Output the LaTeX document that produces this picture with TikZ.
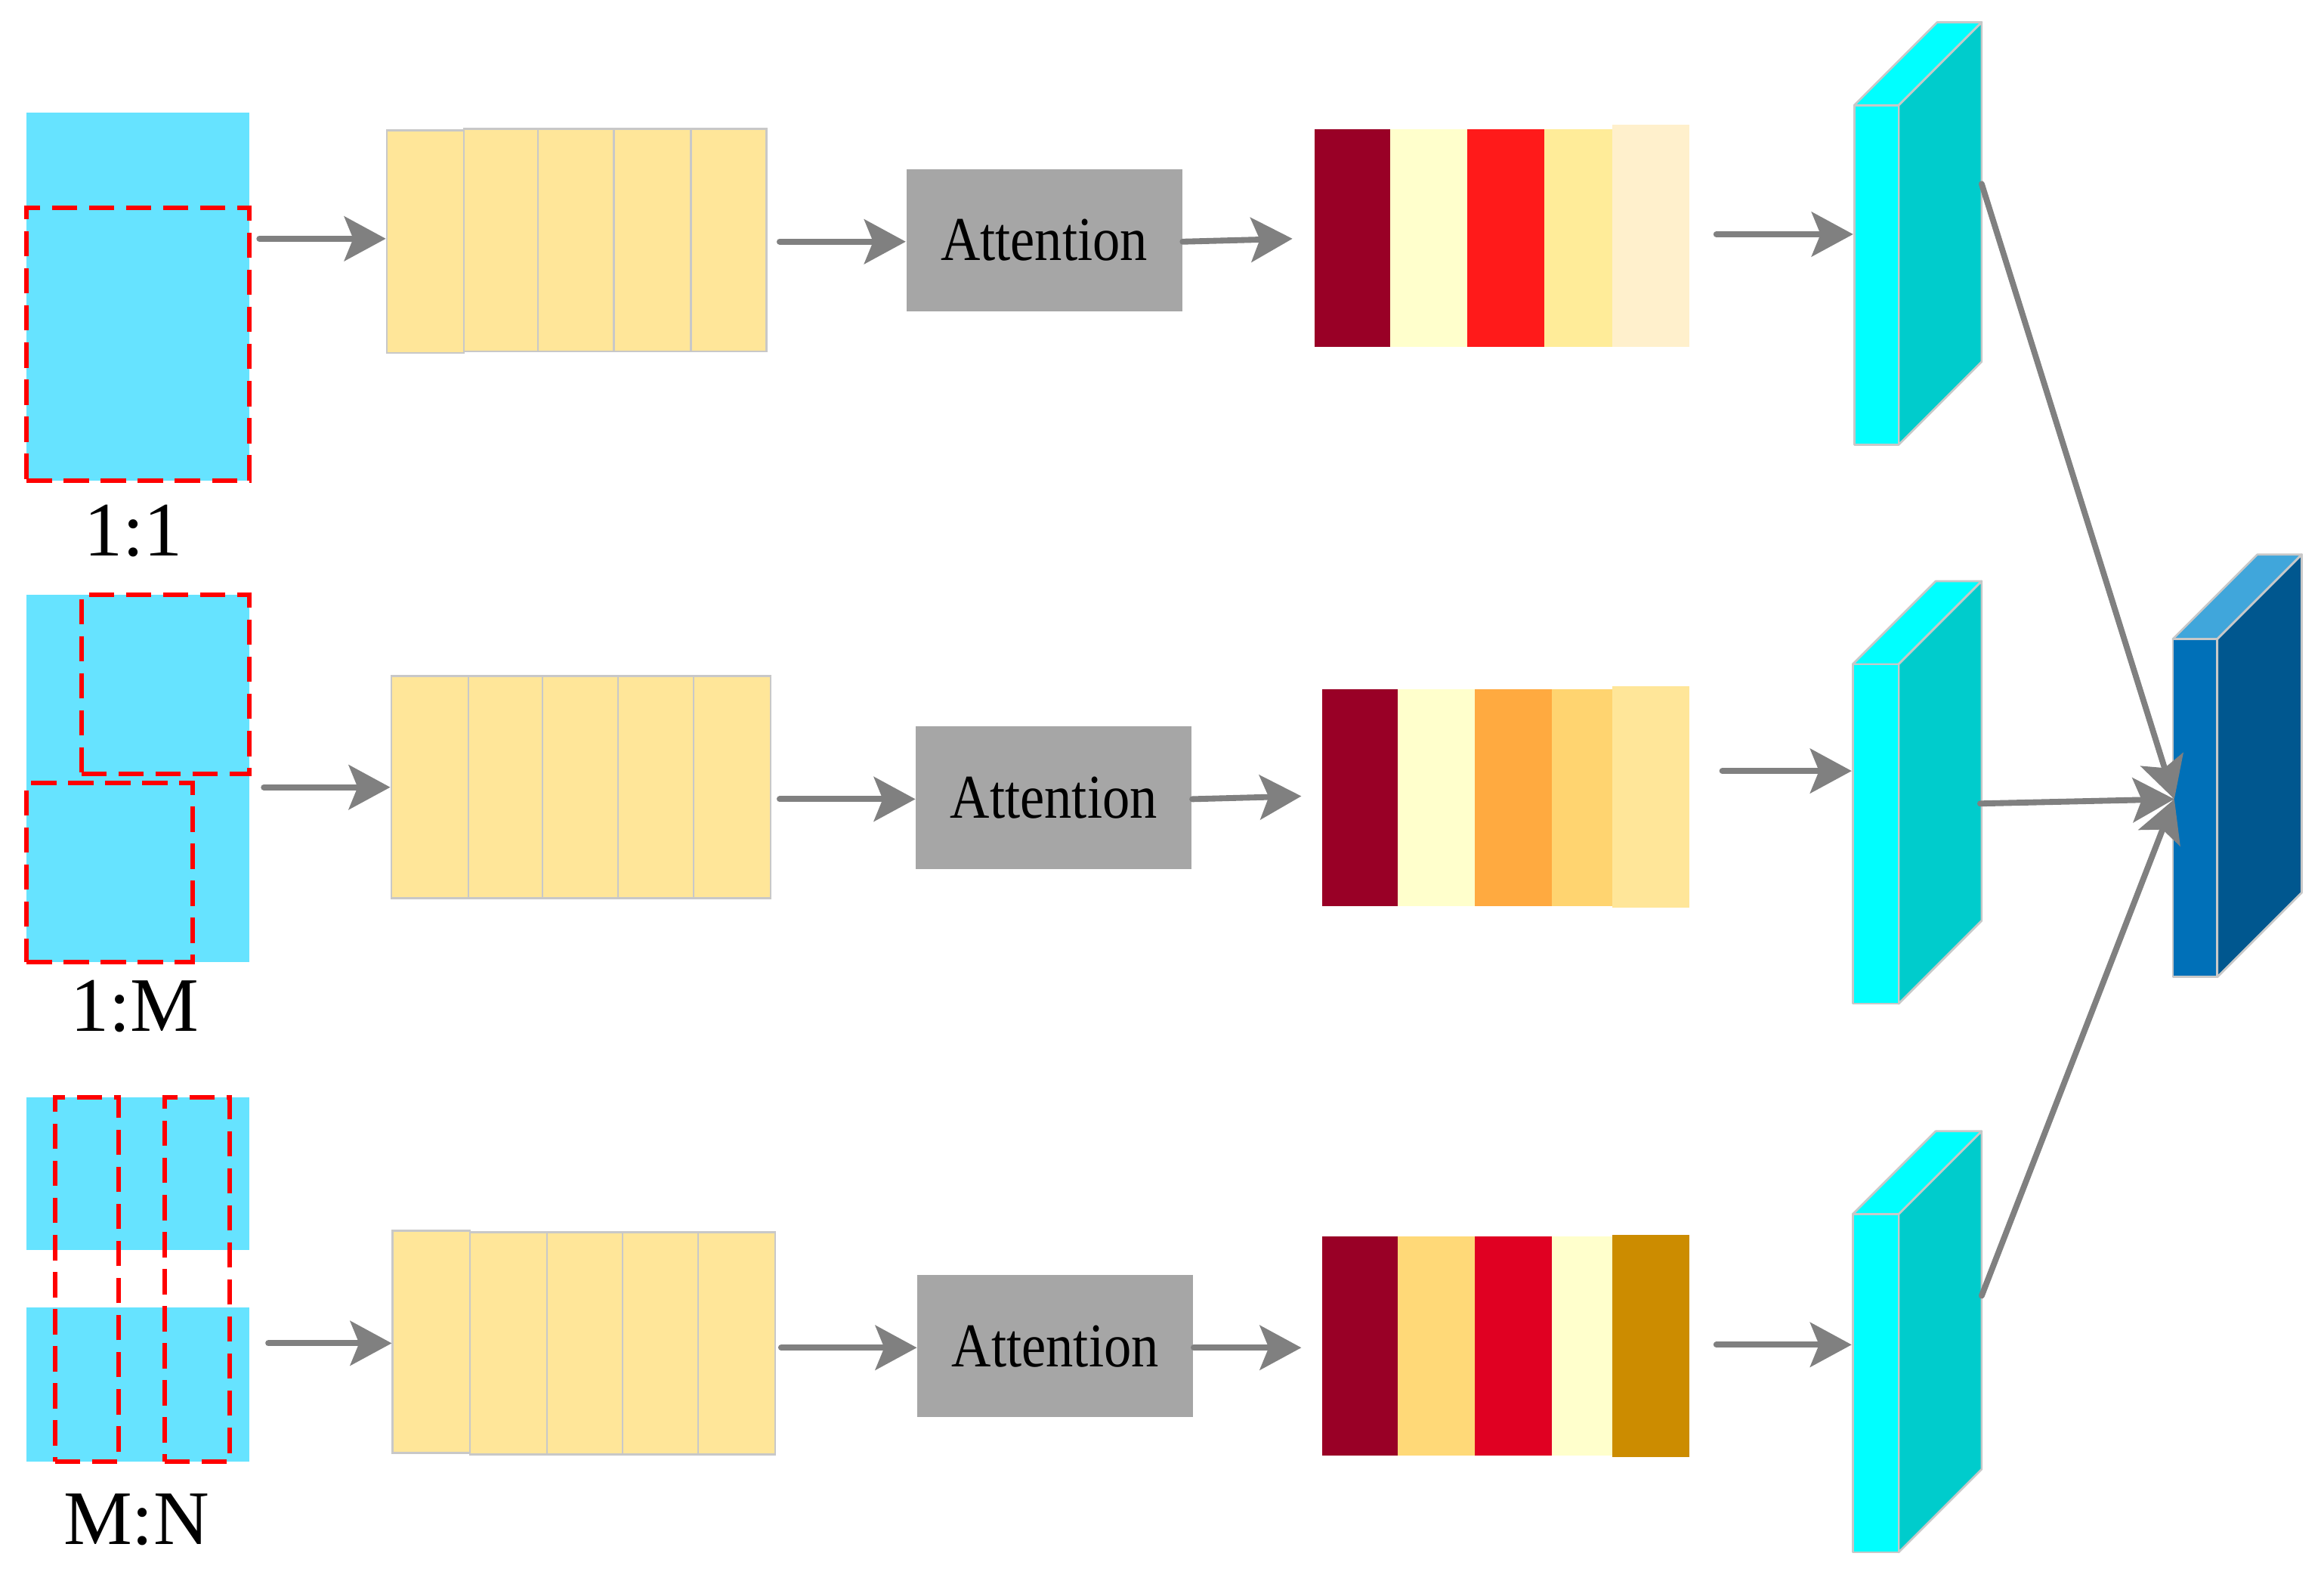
\documentclass[tikz,border=0pt]{standalone}
\usepackage{fontspec}
\setmainfont{Liberation Serif}
\usepackage{graphicx}
\usetikzlibrary{arrows.meta,fit,calc}
\definecolor{inblue}{HTML}{66E3FF}
\definecolor{segyellow}{HTML}{FFE699}
\definecolor{edgegray}{HTML}{C8C8C8}
\definecolor{attgray}{HTML}{A6A6A6}
\definecolor{arrowgray}{HTML}{808080}
\definecolor{cyfront}{HTML}{00FFFF}
\definecolor{cyside}{HTML}{00CCCC}
\definecolor{mfront}{HTML}{0070B8}
\definecolor{mside}{HTML}{00578F}
\definecolor{mtop}{HTML}{40A6DB}
\definecolor{bdark}{HTML}{990026}
\definecolor{bcream}{HTML}{FFFFCC}
\definecolor{bred}{HTML}{FF1A1A}
\definecolor{blyel}{HTML}{FFEC99}
\definecolor{bpale}{HTML}{FFF0CC}
\definecolor{borange}{HTML}{FFAA40}
\definecolor{bgold}{HTML}{FFD470}
\definecolor{bpale2}{HTML}{FFE699}
\definecolor{bgold3}{HTML}{FFD978}
\definecolor{bred3}{HTML}{E00022}
\definecolor{bbrown}{HTML}{CC8C00}
\begin{document}
\begin{tikzpicture}[x=0.5pt,y=-0.5pt,
  inbox/.style={fill=inblue,draw=none,inner sep=0pt},
  cropbox/.style={draw=red,line width=1.5pt,dash pattern=on 8.5pt off 4pt,inner sep=0pt},
  seg/.style={fill=segyellow,draw=edgegray,line width=0.7pt,inner sep=0pt},
  attn/.style={fill=attgray,draw=none,inner sep=0pt,minimum width=93pt,minimum height=48pt,font=\fontsize{21}{24}\selectfont},
  bar/.style={draw=none,inner sep=0pt},
  conn/.style={draw=arrowgray,line width=2pt,line cap=round,-{Stealth[length=14pt,width=15pt,inset=3pt]}},
  lbl/.style={font=\fontsize{26}{30}\selectfont,inner sep=0pt},
  face/.style={draw=edgegray,line width=0.7pt,line join=round,inner sep=0pt}]
\useasboundingbox (0,0) rectangle (1568,1063.85);
\newcommand\attxt{\scalebox{0.88}[1]{Attention}}
% ---------- inputs ----------
\node[inbox,fit={(18,76)(168,324)}] (in1) {};
\node[cropbox,fit={(18,140)(168,324)}] (d1) {};
\node[lbl] (l1) at (90,358) {1:1};
\node[inbox,fit={(18,401)(168,649)}] (in2) {};
\node[cropbox,fit={(55,401)(168,522)}] (d2a) {};
\node[cropbox,fit={(18,528)(130,649)}] (d2b) {};
\node[lbl] (l2) at (91,679) {1:M};
\node[inbox,fit={(18,740)(168,843)}] (in3a) {};
\node[inbox,fit={(18,882)(168,986)}] (in3b) {};
\node[cropbox,fit={(37,740)(80,986)}] (d3a) {};
\node[cropbox,fit={(111,740)(155,986)}] (d3b) {};
\node[lbl] (l3) at (92,1025) {M:N};
% ---------- segment stacks ----------
\node[seg,fit={(261,88)(313,238)}] (s11) {};
\node[seg,fit={(313,87)(363,237)}] (s12) {};
\node[seg,fit={(363,87)(414,237)}] (s13) {};
\node[seg,fit={(414,87)(466,237)}] (s14) {};
\node[seg,fit={(466,87)(517,237)}] (s15) {};
\node[seg,fit={(264,456)(316,606)}] (s21) {};
\node[seg,fit={(316,456)(366,606)}] (s22) {};
\node[seg,fit={(366,456)(417,606)}] (s23) {};
\node[seg,fit={(417,456)(468,606)}] (s24) {};
\node[seg,fit={(468,456)(520,606)}] (s25) {};
\node[seg,fit={(265,830)(317,980)}] (s31) {};
\node[seg,fit={(317,831)(369,981)}] (s32) {};
\node[seg,fit={(369,831)(420,981)}] (s33) {};
\node[seg,fit={(420,831)(471,981)}] (s34) {};
\node[seg,fit={(471,831)(523,981)}] (s35) {};
% ---------- attention ----------
\node[attn] (at1) at (704.5,162) {\attxt};
\node[attn] (at2) at (711,538) {\attxt};
\node[attn] (at3) at (712,908) {\attxt};
% ---------- bars ----------
\node[bar,fill=bdark,fit={(887,87)(938,234)}] (b11) {};
\node[bar,fill=bcream,fit={(938,87)(990,234)}] (b12) {};
\node[bar,fill=bred,fit={(990,87)(1042,234)}] (b13) {};
\node[bar,fill=blyel,fit={(1042,87)(1088,234)}] (b14) {};
\node[bar,fill=bpale,fit={(1088,84)(1140,234)}] (b15) {};
\node[bar,fill=bdark,fit={(892,465)(943,611)}] (b21) {};
\node[bar,fill=bcream,fit={(943,465)(995,611)}] (b22) {};
\node[bar,fill=borange,fit={(995,465)(1047,611)}] (b23) {};
\node[bar,fill=bgold,fit={(1047,465)(1088,611)}] (b24) {};
\node[bar,fill=bpale2,fit={(1088,463)(1140,612)}] (b25) {};
\node[bar,fill=bdark,fit={(892,834)(943,982)}] (b31) {};
\node[bar,fill=bgold3,fit={(943,834)(995,982)}] (b32) {};
\node[bar,fill=bred3,fit={(995,834)(1047,982)}] (b33) {};
\node[bar,fill=bcream,fit={(1047,834)(1088,982)}] (b34) {};
\node[bar,fill=bbrown,fit={(1088,833)(1140,983)}] (b35) {};
% ---------- blocks ----------
\newcommand\slab[8]{% name, xL, xR, yT, yB, d, front, side
  \fill[#7,draw=edgegray,line width=0.7pt,line join=round] (#2,#4) -- (#3,#4) -- (#3+#6,#4-#6) -- (#2+#6,#4-#6) -- cycle;
  \fill[#8,draw=edgegray,line width=0.7pt,line join=round] (#3,#4) -- (#3+#6,#4-#6) -- (#3+#6,#5-#6) -- (#3,#5) -- cycle;
  \node[face,fill=#7,fit={(#2,#4)(#3,#5)}] (#1) {};}
\slab{c1}{1251}{1281}{71}{300}{56}{cyfront}{cyside}
\slab{c2}{1250}{1281}{448}{677}{56}{cyfront}{cyside}
\slab{c3}{1250}{1281}{819}{1047}{56}{cyfront}{cyside}
\fill[mtop,draw=edgegray,line width=0.7pt,line join=round] (1466,431) -- (1496,431) -- (1553,374) -- (1523,374) -- cycle;
\fill[mside,draw=edgegray,line width=0.7pt,line join=round] (1496,431) -- (1553,374) -- (1553,602) -- (1496,659) -- cycle;
\node[face,fill=mfront,fit={(1466,431)(1496,659)}] (mg) {};
% ---------- connector ends ----------
\coordinate (a11) at (175,161);
\coordinate (a12) at (526,163);
\coordinate (a13) at (872,161);
\coordinate (a14) at (1158,158);
\coordinate (a21) at (178,531);
\coordinate (a22) at (526,539);
\coordinate (a23) at (878,537);
\coordinate (a24) at (1162,520);
\coordinate (a31) at (181,906);
\coordinate (a32) at (527,909);
\coordinate (a33) at (878,909);
\coordinate (a34) at (1158,907);
\coordinate (o1) at (1337,124);
\coordinate (o2) at (1336,542);
\coordinate (o3) at (1337,874);
\coordinate (mIn) at (1467,539);
% ---------- connectors ----------
\draw[conn] (a11) -- (s11.west |- a11);
\draw[conn] (a12) -- (at1.west |- a12);
\draw[conn] (at1.east |- 0,163) -- (a13);
\draw[conn] (a14) -- (c1.west |- a14);
\draw[conn] (a21) -- (s21.west |- a21);
\draw[conn] (a22) -- (at2.west |- a22);
\draw[conn] (at2.east |- 0,539) -- (a23);
\draw[conn] (a24) -- (c2.west |- a24);
\draw[conn] (a31) -- (s31.west |- a31);
\draw[conn] (a32) -- (at3.west |- a32);
\draw[conn] (at3.east |- a33) -- (a33);
\draw[conn] (a34) -- (c3.west |- a34);
\draw[conn] (o1) -- (mIn);
\draw[conn] (o2) -- (mIn);
\draw[conn] (o3) -- (mIn);
\end{tikzpicture}
\end{document}
